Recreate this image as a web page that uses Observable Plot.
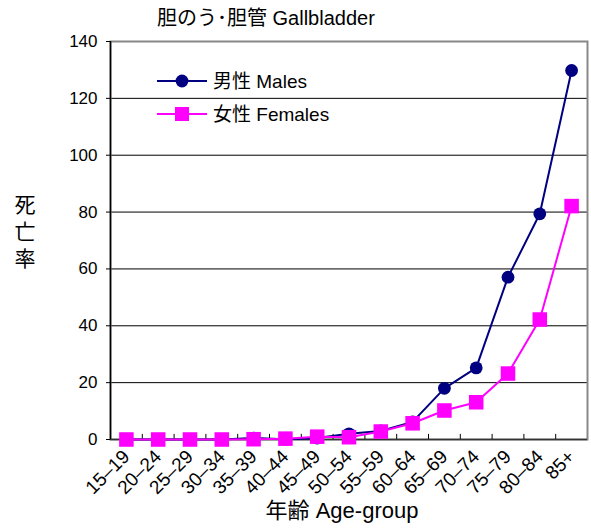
<!DOCTYPE html>
<html><head><meta charset="utf-8">
<script src="https://cdn.jsdelivr.net/npm/d3@7"></script>
<script src="https://cdn.jsdelivr.net/npm/@observablehq/plot@0.6"></script>
<style>
body{margin:0;background:#fff}
#wrap{position:relative;width:591px;height:529px}
</style></head><body><div id="wrap"></div>
<script>
const ageGroups = ["15-19","20-24","25-29","30-34","35-39","40-44","45-49","50-54","55-59","60-64","65-69","70-74","75-79","80-84","85+"];
const males   = [0, 0, 0, 0, 0.5, 0.1, 0.5, 2.0, 3.0, 6.2, 18.0, 25.2, 57.1, 79.4, 129.8];
const females = [0, 0, 0, 0, 0.1, 0.3, 1.0, 0.8, 2.8, 5.7, 10.2, 13.1, 23.2, 42.2, 82.1];
const yTicks = [0, 20, 40, 60, 80, 100, 120, 140];
const seriesNames = ["男性 Males", "女性 Females"];
const seriesColors = ["#000080", "#FF00FF"];
const titleText = "胆のう･胆管 Gallbladder";
const yLabelText = "死亡率";
const xLabelText = "年齢 Age-group";

const font = '"Liberation Sans","Noto Sans CJK JP",sans-serif';
const data = ageGroups.flatMap((a, i) => [
  {age: a, v: males[i], s: seriesNames[0]},
  {age: a, v: females[i], s: seriesNames[1]}
]);
const W = 591, H = 529, ml = 110, mr = 4, mt = 41, mb = 90;
const step = (W - ml - mr) / ageGroups.length;

const chart = Plot.plot({
  width: W, height: H,
  marginLeft: ml, marginRight: mr, marginTop: mt, marginBottom: mb,
  style: {fontFamily: font, fontSize: "17px", background: "white", color: "#000", overflow: "visible"},
  x: {type: "point", domain: ageGroups, padding: 0.5, round: false, label: null},
  y: {domain: [0, 140], label: null},
  color: {domain: seriesNames, range: seriesColors},
  marks: [
    Plot.ruleY(yTicks.slice(1, -1), {stroke: "#000", strokeWidth: 1}),
    Plot.frame({stroke: "#888", strokeWidth: 2}),
    Plot.ruleX(ageGroups.slice(1), {x: d => d, dx: -step / 2, y1: 0, y2: 1.8, stroke: "#000"}),
    Plot.ruleY([0], {stroke: "#333", strokeWidth: 1.5}),
    Plot.ruleX([ageGroups[0]], {dx: -step / 2, stroke: "#000", strokeWidth: 1.5}),
    Plot.axisY(yTicks, {tickSize: 4, tickPadding: 9, label: null, stroke: "#000"}),
    Plot.line(data, {x: "age", y: "v", z: "s", stroke: "s", strokeWidth: 2}),
    Plot.dot(data.filter(d => d.s === seriesNames[0]), {x: "age", y: "v", symbol: "circle", r: 6.4, fill: "s", stroke: "none"}),
    Plot.dot(data.filter(d => d.s === seriesNames[1]), {x: "age", y: "v", symbol: "square", r: 8.2, fill: "s", stroke: "none"}),
    Plot.axisX(ageGroups, {tickSize: 0, tickPadding: 14, tickRotate: -45, label: null,
      tickFormat: d => d.replace("-", "–")})
  ]
});
document.getElementById("wrap").appendChild(chart);

const svg = d3.select(chart);
svg.selectAll('g[aria-label="y-axis tick label"]')
  .attr("font-size", 17).style("font-size", "17px")
  .selectAll("text").style("font-size", "17px");
svg.selectAll('g[aria-label="x-axis tick label"]')
  .attr("font-size", 19).style("font-size", "19px")
  .selectAll("text").style("font-size", "19px");
const txt = (x, y, s, size, anchor) => svg.append("text").attr("x", x).attr("y", y)
  .attr("font-size", size).attr("font-family", font).attr("fill", "#000")
  .attr("text-anchor", anchor || "start").text(s);
txt(157, 25, titleText, 20);
const yl = svg.append("text").attr("font-size", 21).attr("font-family", font).attr("fill", "#000").attr("text-anchor", "middle");
Array.from(yLabelText).forEach((c, i) => yl.append("tspan").attr("x", 25).attr("y", 212 + i * 27).text(c));
txt(342, 518, xLabelText, 22, "middle");

// legend
const ly = [81, 114];
seriesNames.forEach((n, i) => {
  svg.append("line").attr("x1", 157).attr("x2", 207).attr("y1", ly[i]).attr("y2", ly[i]).attr("stroke", seriesColors[i]).attr("stroke-width", 2);
  if (i === 0) svg.append("circle").attr("cx", 182).attr("cy", ly[i]).attr("r", 6.4).attr("fill", seriesColors[i]);
  else svg.append("rect").attr("x", 175).attr("y", ly[i] - 7).attr("width", 14).attr("height", 14).attr("fill", seriesColors[i]);
  txt(213, ly[i] + 7, n, 19);
});
</script>
</body></html>
